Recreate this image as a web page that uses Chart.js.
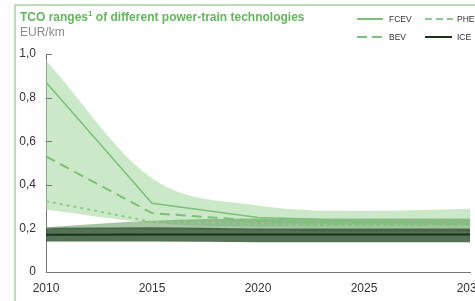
<!DOCTYPE html>
<html>
<head>
<meta charset="utf-8">
<script src="https://cdn.jsdelivr.net/npm/chart.js@4.4.1/dist/chart.umd.min.js"></script>
<style>
  html, body { margin: 0; padding: 0; background: #fff; overflow: hidden; }
  body { width: 475px; height: 301px; position: relative; font-family: "Liberation Sans", Arial, sans-serif; }
  #frame { position: absolute; left: 14px; top: 4px; width: 470px; height: 310px;
           border-left: 2px solid #b9ddb4; border-top: 2px solid #b9ddb4; }
  #title { position: absolute; left: 20px; top: 10px; font-size: 12px; font-weight: bold; color: #62b85a; white-space: nowrap; }
  #title sup { font-size: 8px; vertical-align: 5px; line-height: 0; }
  #unit { position: absolute; left: 20px; top: 25px; font-size: 12px; color: #8a8a8a; }
  .leg { position: absolute; font-size: 8.5px; color: #333; white-space: nowrap; }
  .leg svg { position: absolute; left: 0; top: 0; }
  .leg span { position: absolute; left: 32px; top: -1px; }
  #wrap { position: absolute; left: 0; top: 0; width: 500px; height: 301px; }
</style>
</head>
<body>
<div id="wrap"><canvas id="tco"></canvas></div>
<div id="frame"></div>
<div id="title">TCO ranges<sup>1</sup> of different power-train technologies</div>
<div id="unit">EUR/km</div>
<div class="leg" style="left:357px;top:15px"><svg width="28" height="8"><line x1="0" y1="4" x2="26" y2="4" stroke="#7cc07a" stroke-width="2"/></svg><span>FCEV</span></div>
<div class="leg" style="left:425px;top:15px"><svg width="28" height="8"><line x1="0" y1="4" x2="28" y2="4" stroke="#8ccc8a" stroke-width="2" stroke-dasharray="7 4"/></svg><span>PHEV</span></div>
<div class="leg" style="left:357px;top:33px"><svg width="28" height="8"><line x1="0" y1="4" x2="26" y2="4" stroke="#7cc07a" stroke-width="2" stroke-dasharray="10 5"/></svg><span>BEV</span></div>
<div class="leg" style="left:425px;top:33px"><svg width="28" height="8"><line x1="0" y1="4" x2="27" y2="4" stroke="#17331c" stroke-width="2"/></svg><span>ICE</span></div>
<script>
const years = ['2010', '2015', '2020', '2025', '2030'];

// ranges (EUR/km)
const fcevHigh = [0.97, 0.43, 0.305, 0.28, 0.29];
const fcevLow = [0.285, 0.225, 0.21, 0.21, 0.21];
const bevHigh = [0.205, 0.235, 0.245, 0.245, 0.245];
const bevLow = [0.2, 0.195, 0.19, 0.185, 0.185];
const iceHigh = [0.203, 0.205, 0.2, 0.2, 0.2];
const iceLow = [0.14, 0.14, 0.137, 0.137, 0.137];

// central estimates
const fcev = [0.87, 0.315, 0.25, 0.235, 0.235];
const bev = [0.53, 0.27, 0.235, 0.225, 0.22];
const phev = [0.325, 0.23, 0.22, 0.215, 0.215];
const ice = [0.171, 0.172, 0.172, 0.172, 0.172];

const yTicks = [0, 0.2, 0.4, 0.6, 0.8, 1.0];

function band(data, color, order, fillTo) {
  return {
    data: data,
    borderWidth: 0,
    pointRadius: 0,
    cubicInterpolationMode: 'monotone',
    backgroundColor: color,
    fill: fillTo,
    order: order
  };
}

function line(data, color, width, dash, order) {
  return {
    data: data,
    borderColor: color,
    borderWidth: width,
    borderDash: dash,
    pointRadius: 0,
    fill: false,
    tension: 0,
    order: order
  };
}

// small inward ticks on the y axis
const innerTicks = {
  id: 'innerTicks',
  afterDraw(chart) {
    const ctx = chart.ctx;
    const y = chart.scales.y;
    ctx.save();
    ctx.strokeStyle = '#777';
    ctx.lineWidth = 1;
    yTicks.forEach(v => {
      if (v === 0) return;
      const py = Math.round(y.getPixelForValue(v)) + 0.5;
      ctx.beginPath();
      ctx.moveTo(y.right, py);
      ctx.lineTo(y.right + 6, py);
      ctx.stroke();
    });
    ctx.restore();
  }
};

new Chart(document.getElementById('tco'), {
  type: 'line',
  data: {
    labels: years,
    datasets: [
      band(fcevLow, 'transparent', 20, false),
      band(fcevHigh, 'rgba(160, 215, 155, 0.55)', 19, '-1'),
      band(bevLow, 'transparent', 18, false),
      band(bevHigh, 'rgba(95, 150, 90, 0.55)', 17, '-1'),
      band(iceLow, 'transparent', 16, false),
      band(iceHigh, 'rgba(55, 88, 55, 0.85)', 15, '-1'),
      line(phev, '#8ccc8a', 2, [3, 4], 4),
      line(bev, '#7cc07a', 2, [10, 6], 3),
      line(fcev, '#7cc07a', 1.5, [], 2),
      line(ice, '#17331c', 2, [], 1)
    ]
  },
  options: {
    responsive: true,
    maintainAspectRatio: false,
    animation: false,
    layout: { padding: { top: 54, right: 30, left: 0, bottom: 0 } },
    plugins: {
      legend: { display: false },
      tooltip: { enabled: false }
    },
    scales: {
      x: {
        offset: false,
        grid: { display: false, drawTicks: false },
        border: { display: true, color: '#777', width: 1 },
        ticks: { padding: 9, color: '#333', font: { size: 12, family: 'Liberation Sans' }, maxRotation: 0, autoSkip: false },
        afterFit: s => { s.height = 29; }
      },
      y: {
        min: 0,
        max: 1,
        afterBuildTicks: s => { s.ticks = yTicks.map(v => ({ value: v })); },
        grid: { display: false, drawTicks: false },
        border: { display: true, color: '#777', width: 1 },
        ticks: {
          padding: 10,
          color: '#333',
          font: { size: 12, family: 'Liberation Sans' },
          callback: v => v === 0 ? '0' : v.toFixed(1).replace('.', ',')
        },
        afterFit: s => { s.width = 46; }
      }
    }
  },
  plugins: [innerTicks]
});
</script>
</body>
</html>
